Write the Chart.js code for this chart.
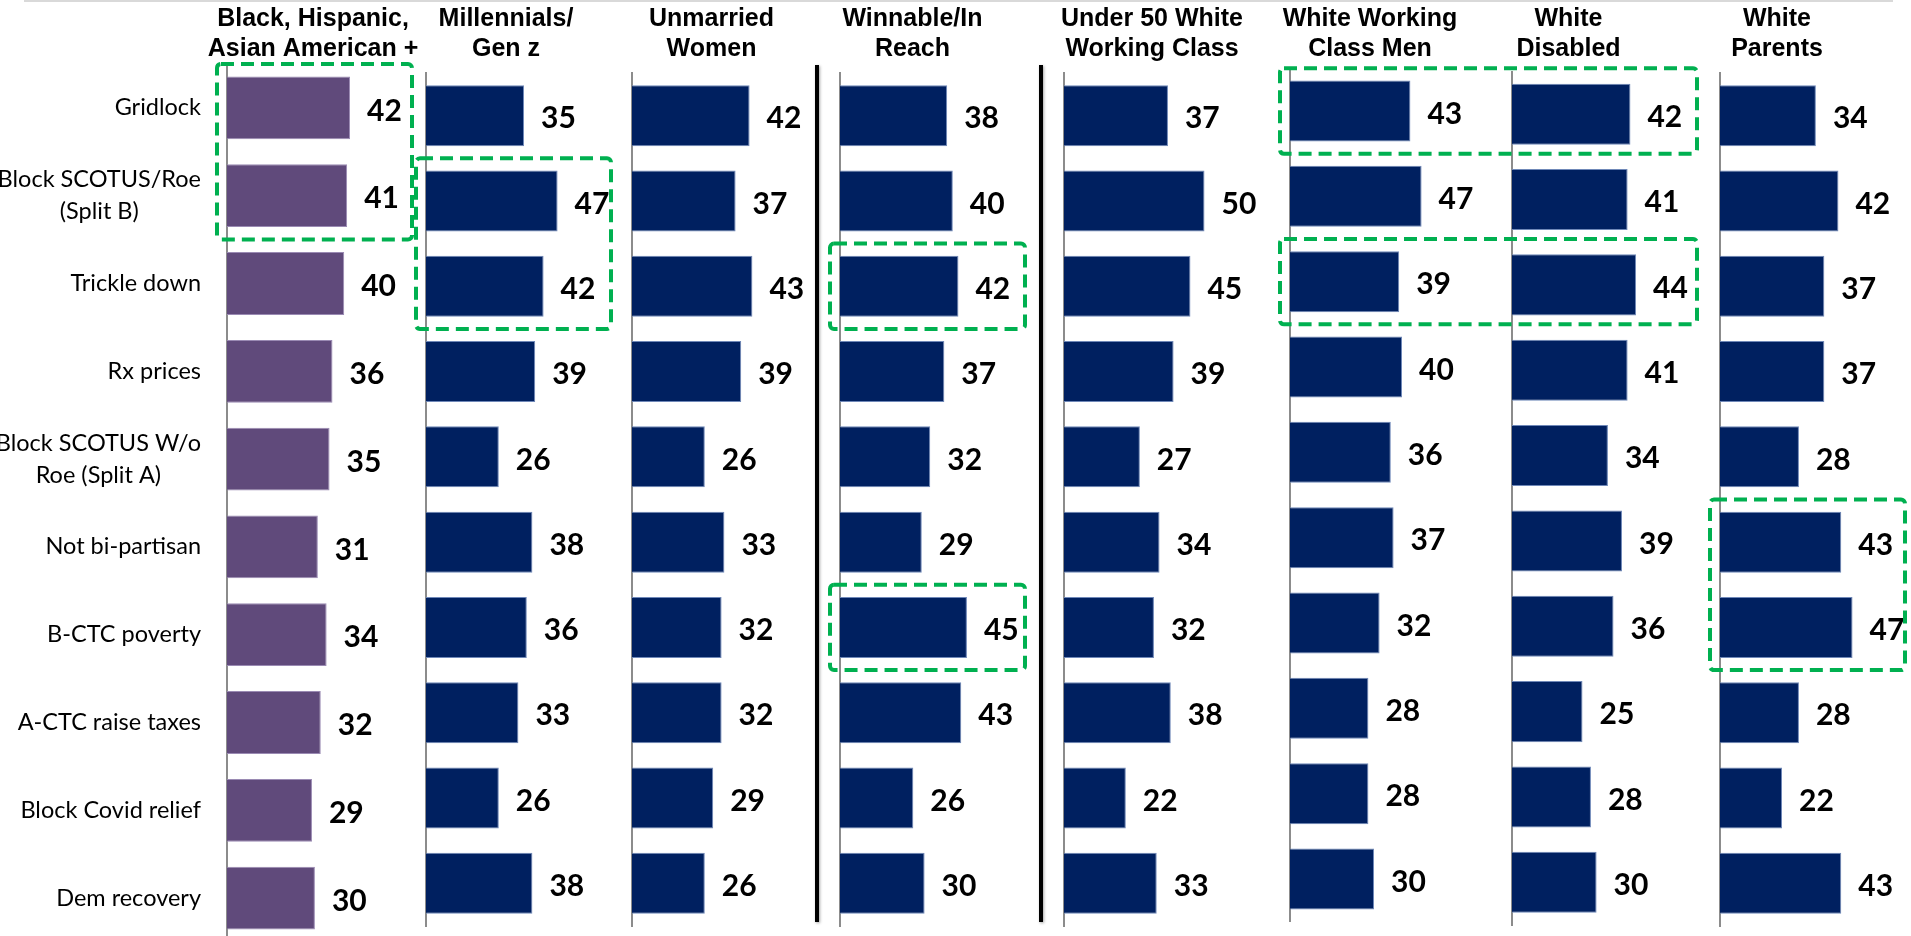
<!DOCTYPE html>
<html>
<head>
<meta charset="utf-8">
<title>Message strength by audience</title>
<script src="https://cdn.jsdelivr.net/npm/chart.js@4.4.1/dist/chart.umd.min.js"></script>
<style>
  html, body { margin: 0; padding: 0; background: #fff; }
  body { width: 1911px; height: 936px; overflow: hidden; position: relative; }
  .panel { position: absolute; top: 0; }
  #overlay { position: absolute; left: 0; top: 0; pointer-events: none; z-index: 5; }
</style>
</head>
<body>
<div id="panels"></div>
<canvas id="overlay" width="1911" height="936"></canvas>
<script>
const categories = [
    ['Gridlock'],
    ['Block SCOTUS/Roe', '(Split B)'],
    ['Trickle down'],
    ['Rx prices'],
    ['Block SCOTUS W/o', 'Roe (Split A)'],
    ['Not bi-partisan'],
    ['B-CTC poverty'],
    ['A-CTC raise taxes'],
    ['Block Covid relief'],
    ['Dem recovery']
];

const audiences = [
    ['Black, Hispanic,', 'Asian American +'],
    ['Millennials/', 'Gen z'],
    ['Unmarried', 'Women'],
    ['Winnable/In', 'Reach'],
    ['Under 50 White', 'Working Class'],
    ['White Working', 'Class Men'],
    ['White', 'Disabled'],
    ['White', 'Parents']
];

const blackHispanicAsian = [42, 41, 40, 36, 35, 31, 34, 32, 29, 30];
const millennialsGenZ    = [35, 47, 42, 39, 26, 38, 36, 33, 26, 38];
const unmarriedWomen     = [42, 37, 43, 39, 26, 33, 32, 32, 29, 26];
const winnableInReach    = [38, 40, 42, 37, 32, 29, 45, 43, 26, 30];
const under50WhiteWC     = [37, 50, 45, 39, 27, 34, 32, 38, 22, 33];
const whiteWCMen         = [43, 47, 39, 40, 36, 37, 32, 28, 28, 30];
const whiteDisabled      = [42, 41, 44, 41, 34, 39, 36, 25, 28, 30];
const whiteParents       = [34, 42, 37, 37, 28, 43, 47, 28, 22, 43];

const seriesValues = [
    blackHispanicAsian, millennialsGenZ, unmarriedWomen, winnableInReach,
    under50WhiteWC, whiteWCMen, whiteDisabled, whiteParents
];

// highlighted cells: [first panel, last panel, first row, last row]
const highlights = [
    [0, 0, 0, 1],
    [1, 1, 1, 2],
    [3, 3, 2, 2],
    [3, 3, 6, 6],
    [5, 6, 0, 0],
    [5, 6, 2, 2],
    [7, 7, 5, 6]
];

// page layout of each small chart (axis x, title centre, px per point, plot top/bottom)
const layout = [
    { axis: 227,  center: 313,    ppu: 2.93, top: 64,   bottom: 942 },
    { axis: 426,  center: 506,    ppu: 2.80, top: 73,   bottom: 926 },
    { axis: 632,  center: 711.5,  ppu: 2.80, top: 73,   bottom: 926 },
    { axis: 840,  center: 912.5,  ppu: 2.82, top: 73,   bottom: 926 },
    { axis: 1064, center: 1152,   ppu: 2.81, top: 73,   bottom: 926 },
    { axis: 1290, center: 1370,   ppu: 2.80, top: 68.3, bottom: 921.7 },
    { axis: 1512, center: 1568.5, ppu: 2.82, top: 71.5, bottom: 925 },
    { axis: 1720, center: 1777,   ppu: 2.82, top: 73,   bottom: 926 }
];

const NAVY = '#002060';
const PURPLE = '#604a7b';

const valueLabels = {
    id: 'valueLabels',
    afterDatasetsDraw(chart) {
        const ctx = chart.ctx;
        const values = chart.data.datasets[0].data;
        ctx.save();
        ctx.font = 'bold 30px Lato, "Liberation Sans", sans-serif';
        ctx.fillStyle = '#000';
        ctx.textAlign = 'left';
        ctx.textBaseline = 'middle';
        chart.getDatasetMeta(0).data.forEach((bar, i) => {
            ctx.fillText(values[i], bar.x + 17, bar.y + 3);
        });
        ctx.restore();
    }
};

// row labels: block right-aligned, lines centred inside the block
const categoryLabels = {
    id: 'categoryLabels',
    afterDraw(chart) {
        const ctx = chart.ctx;
        const y = chart.scales.y;
        const right = chart.chartArea.left - 26;
        ctx.save();
        ctx.font = '23.5px Lato, "Liberation Sans", sans-serif';
        ctx.fillStyle = '#000';
        ctx.textAlign = 'center';
        ctx.textBaseline = 'middle';
        chart.data.labels.forEach((lines, i) => {
            const w = Math.max(...lines.map(l => ctx.measureText(l).width));
            const cx = right - w / 2;
            const cy = y.getPixelForValue(i);
            lines.forEach((l, j) => {
                ctx.fillText(l, cx, cy + (j - (lines.length - 1) / 2) * 32);
            });
        });
        ctx.restore();
    }
};

const holder = document.getElementById('panels');
const charts = [];
const canvasLeft = [];

layout.forEach((p, k) => {
    const first = k === 0;
    // canvas is centred on the title, the y axis box fills the space up to the axis line
    const left = first ? 0 : p.axis - 100;
    const axisW = p.axis - left;
    const width = 2 * (p.center - left);
    const height = Math.max(936, p.bottom);

    const canvas = document.createElement('canvas');
    canvas.className = 'panel';
    canvas.width = width;
    canvas.height = height;
    canvas.style.left = left + 'px';
    holder.appendChild(canvas);
    canvasLeft.push(left);

    charts.push(new Chart(canvas, {
        type: 'bar',
        data: {
            labels: categories,
            datasets: [{
                data: seriesValues[k],
                backgroundColor: first ? PURPLE : NAVY,
                borderColor: first ? '#9a8ab3' : '#6f88b8',
                borderWidth: 1,
                categoryPercentage: 1,
                barPercentage: 0.715,
                clip: false
            }]
        },
        options: {
            indexAxis: 'y',
            responsive: false,
            animation: false,
            devicePixelRatio: 1,
            layout: {
                padding: { left: 0, right: 0, top: 0, bottom: height - p.bottom }
            },
            scales: {
                x: { type: 'linear', display: false, min: 0, max: (width - axisW) / p.ppu },
                y: {
                    display: true,
                    grid: { display: false, drawTicks: false },
                    border: { display: true, color: '#8c8c8c', width: 2 },
                    ticks: { display: false },
                    afterFit(scale) { scale.width = axisW; }
                }
            },
            plugins: {
                legend: { display: false },
                tooltip: { enabled: false },
                title: {
                    display: true,
                    text: audiences[k],
                    color: '#000',
                    font: { family: '"Liberation Sans", Arial, sans-serif', size: 25, weight: 'bold', lineHeight: 1.2 },
                    padding: { top: 4, bottom: p.top - 64 }
                }
            }
        },
        plugins: first ? [valueLabels, categoryLabels] : [valueLabels]
    }));
});

// decorations on top: slide rule, group separators, highlight boxes
const ov = document.getElementById('overlay').getContext('2d');

ov.strokeStyle = '#d9d9d9';
ov.lineWidth = 2;
ov.beginPath();
ov.moveTo(24, 1);
ov.lineTo(1893, 1);
ov.stroke();

[3, 4].forEach(k => {
    const area = charts[k].chartArea;
    const x = canvasLeft[k] + area.left - 23;
    ov.save();
    ov.shadowColor = 'rgba(0,0,0,0.35)';
    ov.shadowBlur = 3;
    ov.shadowOffsetX = 1;
    ov.shadowOffsetY = 1;
    ov.strokeStyle = '#000';
    ov.lineWidth = 4;
    ov.beginPath();
    ov.moveTo(x, area.top - 8);
    ov.lineTo(x, area.bottom - 4);
    ov.stroke();
    ov.restore();
});

highlights.forEach(([p1, p2, r1, r2]) => {
    const y = charts[p1].scales.y;
    const half = (y.getPixelForValue(1) - y.getPixelForValue(0)) / 2;
    const top = y.getPixelForValue(r1) - half;
    const bottom = y.getPixelForValue(r2) + half;
    const x1 = canvasLeft[p1] + charts[p1].chartArea.left - 10;
    const x2 = canvasLeft[p2] + charts[p2].chartArea.left + 185;
    ov.save();
    ov.setLineDash([13, 7]);
    ov.lineWidth = 4;
    ov.strokeStyle = '#00b050';
    ov.beginPath();
    ov.roundRect(x1, top, x2 - x1, bottom - top, 4);
    ov.stroke();
    ov.restore();
});
</script>
</body>
</html>
